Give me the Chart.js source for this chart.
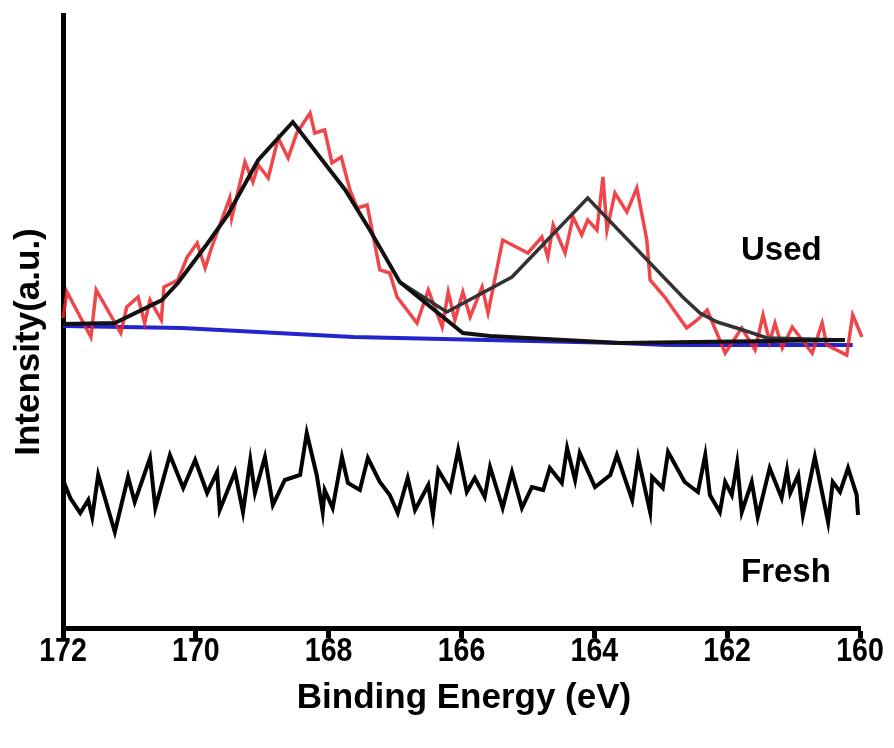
<!DOCTYPE html>
<html>
<head>
<meta charset="utf-8">
<script src="https://cdn.jsdelivr.net/npm/chart.js@4.4.0/dist/chart.umd.min.js"></script>
<style>
  body { margin: 0; background: #fff; }
  #wrap { width: 894px; height: 748px; }
</style>
</head>
<body>
<div id="wrap"><canvas id="xps" width="894" height="748"></canvas></div>
<script>
// S 2p spectra, binding energy in eV, intensity in a.u.
// used sample, raw spectrum
let usedEnergy = [172.00, 171.94, 171.58, 171.50, 171.13, 171.04, 170.87, 170.77, 170.69, 170.52,
    170.48, 170.27, 170.13, 169.98, 169.86, 169.76, 169.49, 169.46, 169.26, 169.14,
    169.06, 168.91, 168.76, 168.61, 168.48, 168.28, 168.21, 168.06, 167.95, 167.81,
    167.68, 167.57, 167.42, 167.23, 167.08, 166.97, 166.67, 166.50, 166.29, 166.20,
    166.10, 165.98, 165.87, 165.69, 165.60, 165.38, 165.00, 164.79, 164.70, 164.62,
    164.44, 164.32, 164.19, 164.10, 163.96, 163.87, 163.81, 163.69, 163.51, 163.36,
    163.21, 163.16, 162.94, 162.61, 162.45, 162.30, 162.03, 161.78, 161.58, 161.46,
    161.36, 161.28, 161.17, 161.02, 160.72, 160.57, 160.50, 160.20, 160.11, 159.97]
let usedIntensity = [310, 336, 291, 338, 295, 321, 331, 305, 328, 308,
    341, 348, 371, 385, 360, 381, 430, 410, 466, 446,
    463, 450, 490, 470, 495, 515, 495, 498, 465, 471,
    438, 420, 423, 358, 355, 331, 305, 338, 301, 336,
    308, 336, 311, 341, 315, 388, 375, 391, 371, 403,
    375, 411, 393, 408, 398, 451, 398, 435, 416, 440,
    388, 348, 331, 300, 308, 318, 275, 300, 278, 313,
    286, 305, 280, 301, 275, 305, 283, 273, 313, 291]

// fitted peak (S 2p at ~168.5 eV) on top of background
let fitEnergy = [172.00, 171.22, 170.51, 170.27, 169.82, 169.52, 169.06, 168.54, 167.75, 167.38,
    166.93, 165.98, 165.57, 163.61, 160.23]
let fitIntensity = [304, 305, 328, 345, 385, 413, 468, 506, 438, 398,
    346, 295, 292, 285, 288]

// fitted peak (~164 eV)
let fit2Energy = [166.93, 166.22, 165.24, 164.10, 162.67, 162.41, 162.15, 161.76, 161.40, 160.23]
let fit2Intensity = [346, 316, 351, 430, 331, 315, 306, 298, 290, 288]

// background
let bgEnergy = [172.00, 170.21, 167.63, 163.61, 162.91, 160.11]
let bgIntensity = [302, 300, 291, 285, 283, 283]

// fresh sample
let freshEnergy = [172.00, 171.89, 171.74, 171.62, 171.56, 171.47, 171.22, 171.02, 170.92, 170.69,
    170.61, 170.39, 170.19, 170.01, 169.83, 169.68, 169.64, 169.41, 169.29, 169.18,
    169.11, 168.96, 168.84, 168.66, 168.43, 168.33, 168.18, 168.09, 168.06, 167.94,
    167.80, 167.71, 167.53, 167.41, 167.23, 167.08, 166.96, 166.81, 166.70, 166.50,
    166.43, 166.35, 166.17, 166.05, 165.92, 165.80, 165.65, 165.57, 165.38, 165.24,
    165.09, 164.94, 164.77, 164.67, 164.49, 164.41, 164.29, 164.22, 163.99, 163.76,
    163.66, 163.43, 163.34, 163.16, 163.13, 162.97, 162.89, 162.64, 162.44, 162.33,
    162.26, 162.11, 162.03, 161.93, 161.85, 161.78, 161.63, 161.54, 161.36, 161.18,
    161.10, 161.05, 160.93, 160.86, 160.68, 160.48, 160.41, 160.30, 160.18, 160.05,
    160.03]
let freshIntensity = [148, 130, 115, 128, 111, 153, 96, 151, 126, 170,
    120, 173, 140, 168, 135, 156, 118, 156, 116, 168,
    135, 171, 123, 148, 153, 195, 153, 116, 138, 120,
    171, 145, 138, 170, 146, 133, 115, 150, 118, 143,
    113, 158, 138, 178, 136, 150, 131, 161, 120, 156,
    120, 141, 138, 160, 145, 180, 148, 175, 141, 153,
    173, 128, 170, 116, 151, 140, 176, 146, 136, 173,
    133, 116, 146, 133, 165, 116, 146, 111, 160, 130,
    158, 135, 153, 113, 171, 106, 146, 136, 160, 133,
    113]

let xTicks = [172, 170, 168, 166, 164, 162, 160]

function toPoints(xs, ys){
    let pts = []
    for (let i = 0; i < xs.length; i++){
        pts.push({x: xs[i], y: ys[i]})
    }
    return pts
}

function lineSet(label, xs, ys, color, width, order){
    return {
        label: label,
        data: toPoints(xs, ys),
        borderColor: color,
        borderWidth: width,
        pointRadius: 0,
        tension: 0,
        fill: false,
        clip: false,
        order: order
    }
}

// text labels, axis titles, condensed tick labels
const textPlugin = {
    id: 'texts',
    afterDraw(chart){
        let ctx = chart.ctx
        let xs = chart.scales.x
        ctx.save()
        ctx.fillStyle = '#000'

        // tick labels are narrow bold in the original
        ctx.font = 'bold 34px "Liberation Sans", Arial, sans-serif'
        ctx.textAlign = 'center'
        ctx.textBaseline = 'alphabetic'
        for (let i = 0; i < xTicks.length; i++){
            let px = xs.getPixelForValue(xTicks[i])
            ctx.save()
            ctx.translate(px, 661)
            ctx.scale(0.84, 1)
            ctx.fillText(String(xTicks[i]), 0, 0)
            ctx.restore()
        }

        ctx.font = 'bold 33px "Liberation Sans", Arial, sans-serif'
        ctx.textAlign = 'left'
        ctx.fillText('Used', 741, 260)
        ctx.fillText('Fresh', 741, 582)

        ctx.font = 'bold 35px "Liberation Sans", Arial, sans-serif'
        ctx.textAlign = 'center'
        ctx.fillText('Binding Energy (eV)', 464, 708)

        ctx.translate(39, 342)
        ctx.rotate(-Math.PI / 2)
        ctx.fillText('Intensity(a.u.)', 0, 0)
        ctx.restore()
    }
}

let ctx = document.getElementById('xps').getContext('2d')
let chart = new Chart(ctx, {
    type: 'line',
    data: {
        datasets: [
            lineSet('Fresh', freshEnergy, freshIntensity, '#000000', 4, 1),
            lineSet('Fit 1', fitEnergy, fitIntensity, '#111111', 4, 2),
            lineSet('Fit 2', fit2Energy, fit2Intensity, '#333333', 3.5, 3),
            lineSet('Used', usedEnergy, usedIntensity, 'rgba(236, 38, 44, 0.85)', 3.5, 4),
            lineSet('Background', bgEnergy, bgIntensity, '#2424cc', 4, 5)
        ]
    },
    options: {
        responsive: false,
        animation: false,
        layout: { padding: { top: 15, right: 34, left: 0, bottom: 0 } },
        plugins: {
            legend: { display: false },
            tooltip: { enabled: false }
        },
        scales: {
            x: {
                type: 'linear',
                reverse: true,
                min: 160,
                max: 172,
                afterBuildTicks: function(scale){
                    scale.ticks = xTicks.map(v => ({value: v}))
                },
                afterFit: function(scale){ scale.height = 120 },
                grid: {
                    display: true,
                    drawOnChartArea: false,
                    drawTicks: true,
                    tickLength: 10,
                    tickWidth: 5,
                    tickColor: '#000'
                },
                border: { display: true, width: 5, color: '#000' },
                ticks: { display: false }
            },
            y: {
                min: 0,
                max: 613,
                afterFit: function(scale){ scale.width = 63 },
                grid: { display: false },
                border: { display: true, width: 5, color: '#000' },
                ticks: { display: false }
            }
        }
    },
    plugins: [textPlugin]
})
</script>
</body>
</html>
